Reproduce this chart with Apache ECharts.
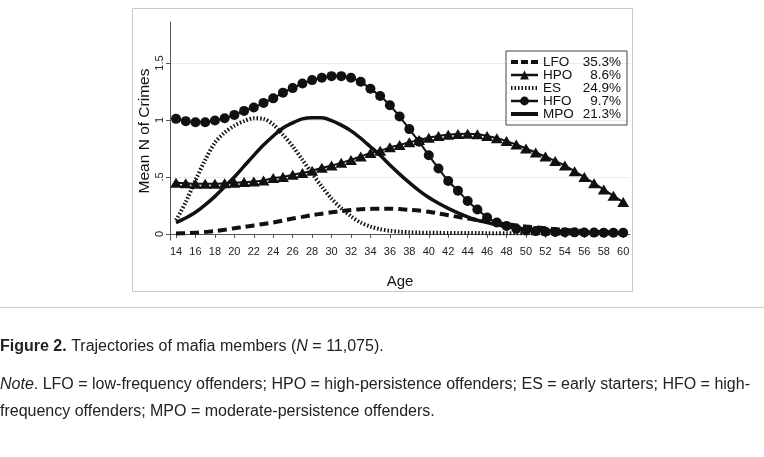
<!DOCTYPE html>
<html>
<head>
<meta charset="utf-8">
<script src="https://cdn.jsdelivr.net/npm/echarts@6/dist/echarts.min.js"></script>
<style>
  html, body { margin: 0; padding: 0; background: #fff; }
  #main { width: 764px; height: 457px; }
</style>
</head>
<body>
<div id="main"></div>
<script>
var myChart = echarts.init(document.getElementById('main'));

// ages on the x axis
var ages = [14, 15, 16, 17, 18, 19, 20, 21, 22, 23, 24, 25, 26, 27, 28, 29, 30,
    31, 32, 33, 34, 35, 36, 37, 38, 39, 40, 41, 42, 43, 44, 45, 46, 47, 48, 49,
    50, 51, 52, 53, 54, 55, 56, 57, 58, 59, 60];
var xTicks = [14, 16, 18, 20, 22, 24, 26, 28, 30, 32, 34, 36, 38, 40, 42, 44, 46, 48, 50, 52, 54, 56, 58, 60];
var yTicks = [0, 0.5, 1, 1.5];
var yTickLabels = ['0', '.5', '1', '1.5'];

// group names + shares
var groups = ['LFO', 'HPO', 'ES', 'HFO', 'MPO'];
var shares = ['35.3%', '8.6%', '24.9%', '9.7%', '21.3%'];

// mean n of crimes per age
var lfo = [0.005, 0.007, 0.01, 0.017, 0.025, 0.037, 0.05, 0.062, 0.075, 0.088, 0.10, 0.118, 0.135, 0.15, 0.165, 0.178, 0.19,
    0.20, 0.21, 0.217, 0.22, 0.222, 0.222, 0.218, 0.212, 0.205, 0.195, 0.18, 0.165, 0.15, 0.135, 0.122, 0.11, 0.097, 0.085, 0.075,
    0.065, 0.057, 0.05, 0.042, 0.035, 0.03, 0.025, 0.02, 0.017, 0.014, 0.012];
var hpo = [0.45, 0.445, 0.44, 0.44, 0.44, 0.445, 0.45, 0.455, 0.46, 0.47, 0.49, 0.50, 0.52, 0.535, 0.555, 0.58, 0.60,
    0.625, 0.65, 0.68, 0.71, 0.73, 0.76, 0.78, 0.805, 0.825, 0.845, 0.86, 0.87, 0.877, 0.88, 0.875, 0.86, 0.84, 0.815, 0.785,
    0.75, 0.715, 0.68, 0.64, 0.60, 0.55, 0.50, 0.445, 0.39, 0.335, 0.28];
var es = [0.12, 0.28, 0.47, 0.65, 0.80, 0.89, 0.95, 0.99, 1.015, 1.01, 0.96, 0.87, 0.77, 0.65, 0.53, 0.415, 0.31,
    0.225, 0.155, 0.10, 0.065, 0.042, 0.028, 0.02, 0.015, 0.012, 0.01, 0.01, 0.009, 0.009, 0.008, 0.008, 0.007, 0.007, 0.007, 0.006,
    0.006, 0.006, 0.006, 0.005, 0.005, 0.005, 0.005, 0.005, 0.005, 0.005, 0.005];
var hfo = [1.01, 0.99, 0.98, 0.98, 0.995, 1.015, 1.045, 1.08, 1.11, 1.15, 1.19, 1.24, 1.28, 1.32, 1.35, 1.37, 1.385,
    1.385, 1.37, 1.335, 1.275, 1.21, 1.13, 1.03, 0.92, 0.81, 0.69, 0.575, 0.465, 0.38, 0.29, 0.215, 0.145, 0.10, 0.07, 0.045,
    0.03, 0.025, 0.02, 0.018, 0.016, 0.014, 0.013, 0.012, 0.011, 0.01, 0.01];
var mpo = [0.10, 0.14, 0.19, 0.255, 0.33, 0.415, 0.50, 0.595, 0.69, 0.78, 0.86, 0.93, 0.975, 1.01, 1.02, 1.02, 0.995,
    0.955, 0.905, 0.84, 0.765, 0.69, 0.605, 0.525, 0.45, 0.38, 0.32, 0.27, 0.225, 0.185, 0.15, 0.12, 0.10, 0.08, 0.065, 0.052,
    0.042, 0.035, 0.03, 0.025, 0.021, 0.018, 0.015, 0.013, 0.012, 0.011, 0.01];

function pairs(vals) {
    return ages.map(function (a, i) { return [a, vals[i]]; });
}

var FONT = '"Liberation Sans", Arial, sans-serif';

// legend keys: thick lines like the plot, no marker for the plain lines
var legendData = [
    { name: 'LFO', itemStyle: { opacity: 0 }, lineStyle: { width: 4, type: [7, 3] } },
    { name: 'HPO', lineStyle: { width: 2.5 } },
    { name: 'ES', itemStyle: { opacity: 0 }, lineStyle: { width: 4, type: [1.5, 2] } },
    { name: 'HFO', lineStyle: { width: 2.5 } },
    { name: 'MPO', itemStyle: { opacity: 0 }, lineStyle: { width: 4 } }
];

option = {
    backgroundColor: '#fff',
    animation: false,
    textStyle: { fontFamily: FONT },
    grid: {
        left: 170,
        right: 134,
        top: 22,
        bottom: 217
    },
    legend: {
        data: legendData,
        orient: 'vertical',
        left: 506,
        top: 51,
        padding: [4, 6, 4, 3],
        itemGap: -1,
        itemWidth: 27,
        itemHeight: 11,
        borderColor: '#444',
        borderWidth: 1,
        formatter: function (name) {
            return '{n|' + name + '}{p|' + shares[groups.indexOf(name)] + '}';
        },
        textStyle: {
            color: '#111',
            lineHeight: 11,
            rich: {
                n: { fontSize: 13.5, width: 42, lineHeight: 11, fontFamily: FONT },
                p: { fontSize: 13.5, width: 36, align: 'right', lineHeight: 11, fontFamily: FONT }
            }
        }
    },
    xAxis: {
        type: 'value',
        min: 13.38,
        max: 60.7,
        name: 'Age',
        nameLocation: 'middle',
        nameGap: 34,
        nameTextStyle: { fontSize: 15, color: '#111' },
        axisLine: { lineStyle: { color: '#555', width: 1 } },
        axisTick: { customValues: xTicks, length: 4, lineStyle: { color: '#555' } },
        axisLabel: { customValues: xTicks, fontSize: 11, color: '#222', margin: 6 },
        splitLine: { show: false }
    },
    yAxis: {
        type: 'value',
        min: -0.053,
        max: 1.86,
        name: 'Mean N of Crimes',
        nameLocation: 'middle',
        nameGap: 17,
        nameMoveOverlap: false,
        nameTextStyle: { fontSize: 15.5, color: '#111' },
        axisLine: { show: true, lineStyle: { color: '#555', width: 1 } },
        axisTick: { show: true, customValues: yTicks, length: 4, lineStyle: { color: '#555' } },
        axisLabel: {
            customValues: yTicks,
            rotate: 90,
            fontSize: 11,
            color: '#222',
            margin: 5,
            formatter: function (v) {
                return yTickLabels[yTicks.indexOf(v)];
            }
        },
        splitLine: { show: true, lineStyle: { color: '#ececec', width: 1 } }
    },
    series: [
        {
            name: 'LFO', type: 'line', smooth: 0.3, symbol: 'none',
            itemStyle: { color: '#111' },
            lineStyle: { color: '#111', width: 4, type: [9, 5] },
            data: pairs(lfo)
        },
        {
            name: 'HPO', type: 'line', smooth: 0.3, symbol: 'triangle', symbolSize: [12, 10],
            itemStyle: { color: '#111' },
            lineStyle: { color: '#111', width: 2 },
            data: pairs(hpo)
        },
        {
            name: 'ES', type: 'line', smooth: 0.3, symbol: 'none',
            itemStyle: { color: '#111' },
            lineStyle: { color: '#111', width: 4, type: [1.5, 2] },
            data: pairs(es)
        },
        {
            name: 'HFO', type: 'line', smooth: 0.3, symbol: 'circle', symbolSize: 10,
            itemStyle: { color: '#111' },
            lineStyle: { color: '#111', width: 2 },
            data: pairs(hfo)
        },
        {
            name: 'MPO', type: 'line', smooth: 0.3, symbol: 'none',
            itemStyle: { color: '#111' },
            lineStyle: { color: '#111', width: 3.5 },
            data: pairs(mpo)
        }
    ],
    graphic: [
        {
            type: 'rect', silent: true, z: -1,
            shape: { x: 132.5, y: 8.5, width: 500, height: 283 },
            style: { fill: 'none', stroke: '#c8c8c8', lineWidth: 1 }
        },
        {
            type: 'line', silent: true,
            shape: { x1: 0, y1: 307.5, x2: 764, y2: 307.5 },
            style: { stroke: '#cccccc', lineWidth: 1 }
        },
        {
            type: 'text', left: 0, top: 339,
            style: {
                text: '{b|Figure 2.} Trajectories of mafia members ({i|N} = 11,075).',
                font: '16px ' + FONT, fill: '#222',
                rich: {
                    b: { fontWeight: 'bold', fontSize: 16, fontFamily: FONT },
                    i: { fontStyle: 'italic', fontSize: 16, fontFamily: FONT }
                }
            }
        },
        {
            type: 'text', left: 0, top: 377,
            style: {
                text: '{i|Note}. LFO = low-frequency offenders; HPO = high-persistence offenders; ES = early starters; HFO = high-',
                font: '16px ' + FONT, fill: '#222',
                rich: { i: { fontStyle: 'italic', fontSize: 16, fontFamily: FONT } }
            }
        },
        {
            type: 'text', left: 0, top: 404,
            style: {
                text: 'frequency offenders; MPO = moderate-persistence offenders.',
                font: '16px ' + FONT, fill: '#222'
            }
        }
    ]
};

myChart.setOption(option);
</script>
</body>
</html>
